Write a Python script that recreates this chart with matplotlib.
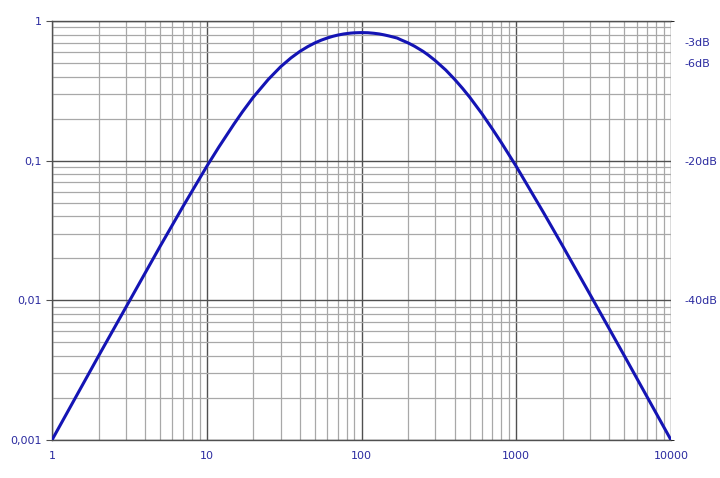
import matplotlib
matplotlib.use("Agg")
import matplotlib.pyplot as plt
from matplotlib.ticker import LogLocator, NullFormatter

# curve points (frequency, gain)
freq = [1, 1.5, 2, 3, 5, 7, 10, 12, 15, 17, 20, 25, 30, 35, 40, 45, 50,
        55, 60, 65, 70, 77, 85, 90, 100, 110, 120, 130, 140, 150, 170,
        180, 200, 220, 250, 270, 300, 350, 400, 450, 500, 600, 700, 800,
        1000, 1500, 2000, 3000, 5000, 7000, 10000]
gain = [0.001, 0.00225, 0.004, 0.0089, 0.0244, 0.0467, 0.091, 0.1257,
        0.183, 0.2236, 0.285, 0.382, 0.47, 0.544, 0.606, 0.656, 0.697,
        0.7295, 0.755, 0.776, 0.792, 0.808, 0.819, 0.823, 0.826, 0.824,
        0.817, 0.808, 0.7955, 0.782, 0.755, 0.733, 0.697, 0.660, 0.606,
        0.5705, 0.52, 0.446, 0.382, 0.329, 0.285, 0.217, 0.169, 0.135,
        0.091, 0.0425, 0.0244, 0.011, 0.004, 0.00204, 0.001]

x_ticks = [1, 10, 100, 1000, 10000]
x_labels = ["1", "10", "100", "1000", "10000"]
y_ticks = [0.001, 0.01, 0.1, 1]
y_labels = ["0,001", "0,01", "0,1", "1"]
db_ticks = [0.707, 0.5, 0.1, 0.01]
db_labels = ["-3dB", "-6dB", "-20dB", "-40dB"]

label_color = "#2b2ba0"
line_color = "#1414b4"

fig = plt.figure(figsize=(7.2, 4.78), dpi=100)
ax = fig.add_axes([52 / 720, 1 - 440 / 478, 619 / 720, 419 / 478])

ax.set_xscale("log")
ax.set_yscale("log")
ax.set_xlim(1, 10000)
ax.set_ylim(0.001, 1)

ax.xaxis.set_minor_locator(LogLocator(base=10, subs=range(2, 10)))
ax.yaxis.set_minor_locator(LogLocator(base=10, subs=range(2, 10)))
ax.xaxis.set_minor_formatter(NullFormatter())
ax.yaxis.set_minor_formatter(NullFormatter())

ax.grid(True, which="major", color="#505050", linewidth=1.0)
ax.grid(True, which="minor", color="#a8a8a8", linewidth=0.9)
ax.set_axisbelow(True)

ax.plot(freq, gain, color=line_color, linewidth=2.2, solid_capstyle="round", zorder=3)

ax.set_xticks(x_ticks)
ax.set_xticklabels(x_labels)
ax.set_yticks(y_ticks)
ax.set_yticklabels(y_labels)
ax.tick_params(axis="both", which="major", labelsize=8, labelcolor=label_color,
               color="#505050", length=4)
ax.tick_params(axis="x", which="major", length=0, pad=8)
ax.tick_params(axis="both", which="minor", length=0)

for side in ["left", "right", "top", "bottom"]:
    ax.spines[side].set_color("#505050")
    ax.spines[side].set_linewidth(1.0)
ax.spines["right"].set_visible(False)

ax2 = ax.twinx()
ax2.set_yscale("log")
ax2.set_ylim(0.001, 1)
ax2.set_yticks(db_ticks)
ax2.set_yticklabels(db_labels)
ax2.yaxis.set_minor_locator(LogLocator(base=10, subs=[]))
ax2.yaxis.set_minor_formatter(NullFormatter())
ax2.tick_params(axis="y", which="major", length=0, pad=10, labelsize=8,
                labelcolor=label_color)
for side in ["left", "right", "top", "bottom"]:
    ax2.spines[side].set_visible(False)

fig.savefig("out.png", dpi=100)
